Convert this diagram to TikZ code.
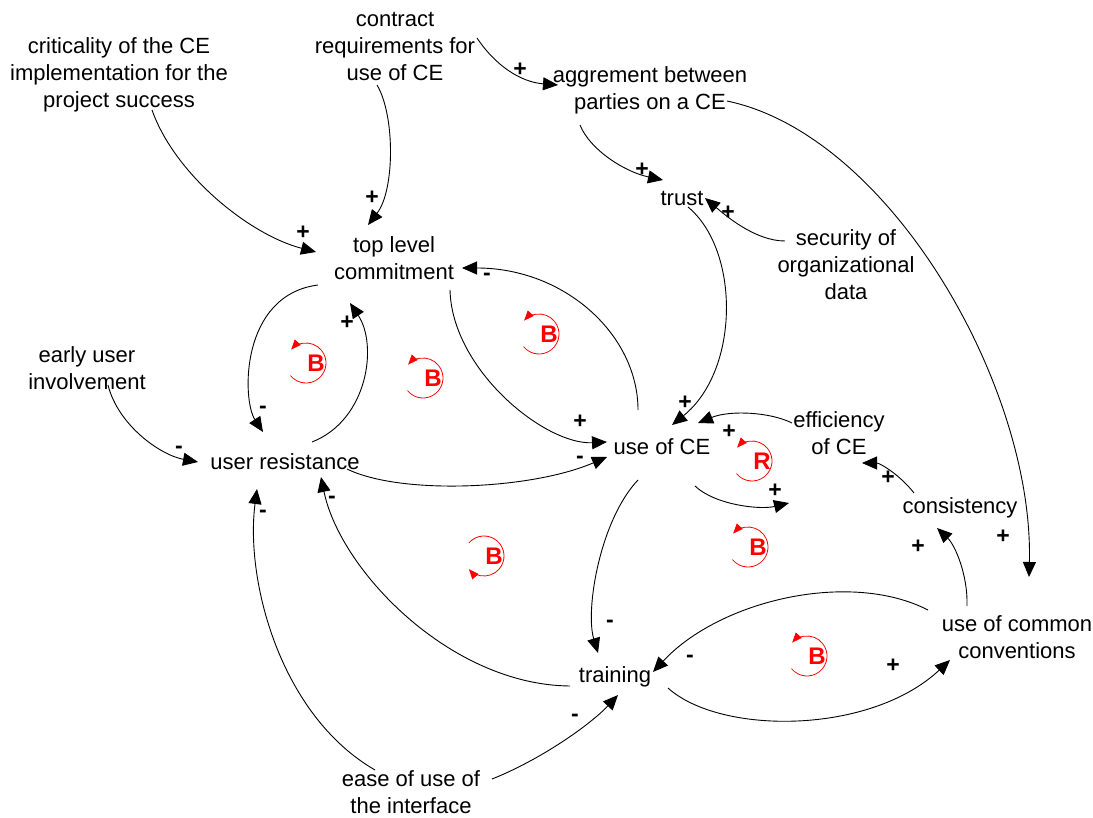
\documentclass[tikz,border=0pt]{standalone}
\usepackage{fontspec}
\setmainfont{Liberation Sans}
\usetikzlibrary{arrows.meta,calc}
\definecolor{loopred}{RGB}{255,0,0}
\tikzset{
  var/.style={font=\fontsize{22}{27}\selectfont, align=center, inner sep=0pt},
  one/.style={var, text height=16pt, text depth=5pt},
  link/.style={line width=0.9pt, -{Triangle[length=15pt,width=13pt]}},
  sgn/.style={font=\fontsize{23}{23}\selectfont\bfseries, inner sep=0pt},
  looplbl/.style={font=\fontsize{24}{24}\selectfont\bfseries, text=loopred, inner sep=0pt},
  loopline/.style={draw=loopred, line width=0.8pt, -{Triangle[length=10pt,width=8pt]}},
}
% counter-clockwise / clockwise loop marker around a loop letter
\newcommand{\ccwloop}[1]{\draw[loopline] ($(#1)+(-10,0)+(141:20)$) arc[start angle=141, end angle=-138, radius=20];}
\newcommand{\cwloop}[1]{\draw[loopline] ($(#1)+(-10,0)+(-139:20)$) arc[start angle=-139, end angle=139, radius=20];}
\begin{document}
\begin{tikzpicture}[x=1pt,y=-1pt]
\useasboundingbox (0,0) rectangle (1093,818);

% variables
\node[var] (crit) at (119,75) {criticality of the CE\\implementation for the\\project success};
\node[var] (contract) at (395,46) {contract\\requirements for\\use of CE};
\node[var] (agree) at (650,90) {aggrement between\\parties on a CE};
\node[one] (trust) at (682,200) {trust};
\node[var] (security) at (846,265) {security of\\organizational\\data};
\node[var] (top) at (394,258) {top level\\commitment};
\node[var] (early) at (87,368) {early user\\involvement};
\node[one] (ur) at (285,464) {user resistance};
\node[one] (use) at (662,449) {use of CE};
\node[var] (eff) at (839,433) {efficiency\\of CE};
\node[one] (cons) at (960,508) {consistency};
\node[var] (ucc) at (1017,637) {use of common\\conventions};
\node[one] (train) at (615,677) {training};
\node[var] (ease) at (411,792) {ease of use of\\the interface};
\coordinate (effin) at (789,503);

% causal links
\draw[link] ($(contract)+(82,-8)$) .. controls +(18,27) and +(-38,-3) .. ($(agree)+(-92,-5)$);
\draw[link] ($(crit)+(33,35)$) .. controls +(23,65) and +(-66,-17) .. ($(top)+(-78,-6)$);
\draw[link] ($(contract)+(-18,39)$) .. controls +(18,30) and +(27,-35) .. ($(top)+(-26,-33)$);
\draw[link] ($(agree)+(-70,35)$) .. controls +(10,25) and +(-38,-8) .. ($(trust)+(-19,-20)$);
\draw[link] ($(agree)+(77,11)$) .. controls +(163,34) and +(5,-190) .. ($(ucc)+(12,-60)$);
\draw[link] ($(security)+(-61,-24)$) .. controls +(-30,0) and +(20,17) .. ($(trust)+(23,-2)$);
\draw[link] ($(trust)+(6,7)$) .. controls +(52,43) and +(68,-55) .. ($(use)+(10,-24)$);
\draw[link] ($(top)+(-76,27)$) .. controls +(-78,10) and +(-21,-32) .. ($(ur)+(-22,-32)$);
\draw[link] ($(ur)+(27,-22)$) .. controls +(56,-22) and +(28,42) .. ($(top)+(-44,45)$);
\draw[link] ($(top)+(56,32)$) .. controls +(2,80) and +(-62,3) .. ($(use)+(-55,-7)$);
\draw[link] ($(use)+(-24,-39)$) .. controls +(0,-75) and +(103,0) .. ($(top)+(68,10)$);
\draw[link] ($(early)+(21,17)$) .. controls +(10,40) and +(-38,-7) .. ($(ur)+(-87,-2)$);
\draw[link] ($(ur)+(62,5)$) .. controls +(53,26) and +(-77,33) .. ($(use)+(-55,8)$);
\draw[link] ($(eff)+(-47,-10)$) .. controls +(-22,-11) and +(32,-13) .. ($(use)+(36,-26)$);
\draw[link] ($(use)+(33,37)$) .. controls +(20,19) and +(-29,7) .. (effin);
\draw[link] ($(cons)+(-46,-15)$) .. controls +(-14,-18) and +(18,0) .. ($(eff)+(23,30)$);
\draw[link] ($(ucc)+(-50,-31)$) .. controls +(1,-31) and +(18,17) .. ($(cons)+(-23,20)$);
\draw[link] ($(use)+(-24,31)$) .. controls +(-38,40) and +(-13,-43) .. ($(train)+(-17,-24)$);
\draw[link] ($(ucc)+(-89,-27)$) .. controls +(-78,-40) and +(67,-72) .. ($(train)+(38,-5)$);
\draw[link] ($(train)+(53,11)$) .. controls +(52,47) and +(-80,75) .. ($(ucc)+(-67,23)$);
\draw[link] ($(train)+(-45,9)$) .. controls +(-120,-1) and +(19,93) .. ($(ur)+(36,13)$);
\draw[link] ($(ease)+(-36,-22)$) .. controls +(-95,-55) and +(-12,91) .. ($(ur)+(-28,25)$);
\draw[link] ($(ease)+(81,-13)$) .. controls +(48,-19) and +(-28,30) .. ($(train)+(3,18)$);

% link polarities
\node[sgn] (s1) at (520,70) {+};
\node[sgn] (s2) at (303,233) {+};
\node[sgn] (s3) at (372,198) {+};
\node[sgn] (s4) at (642,170) {+};
\node[sgn] (s5) at (1003,537) {+};
\node[sgn] (s6) at (728,213) {+};
\node[sgn] (s7) at (685,403) {+};
\node[sgn] (s8) at (263,410) {-};
\node[sgn] (s9) at (347,323) {+};
\node[sgn] (s10) at (580,422) {+};
\node[sgn] (s11) at (487,277) {-};
\node[sgn] (s12) at (179,450) {-};
\node[sgn] (s13) at (580,460) {-};
\node[sgn] (s14) at (729,432) {+};
\node[sgn] (s15) at (775,491) {+};
\node[sgn] (s16) at (888,478) {+};
\node[sgn] (s17) at (918,547) {+};
\node[sgn] (s18) at (610,624) {-};
\node[sgn] (s19) at (690,659) {-};
\node[sgn] (s20) at (893,666) {+};
\node[sgn] (s21) at (332,500) {-};
\node[sgn] (s22) at (263,514) {-};
\node[sgn] (s23) at (575,718) {-};

% loop identifiers
\node[looplbl] (L1) at (316,363) {B};
\node[looplbl] (L2) at (433,378) {B};
\node[looplbl] (L3) at (549,334) {B};
\node[looplbl] (L4) at (762,461) {R};
\node[looplbl] (L5) at (758,547) {B};
\node[looplbl] (L6) at (494,556) {B};
\node[looplbl] (L7) at (817,656) {B};
\ccwloop{L1}
\ccwloop{L2}
\ccwloop{L3}
\ccwloop{L4}
\ccwloop{L5}
\cwloop{L6}
\ccwloop{L7}
\end{tikzpicture}
\end{document}
